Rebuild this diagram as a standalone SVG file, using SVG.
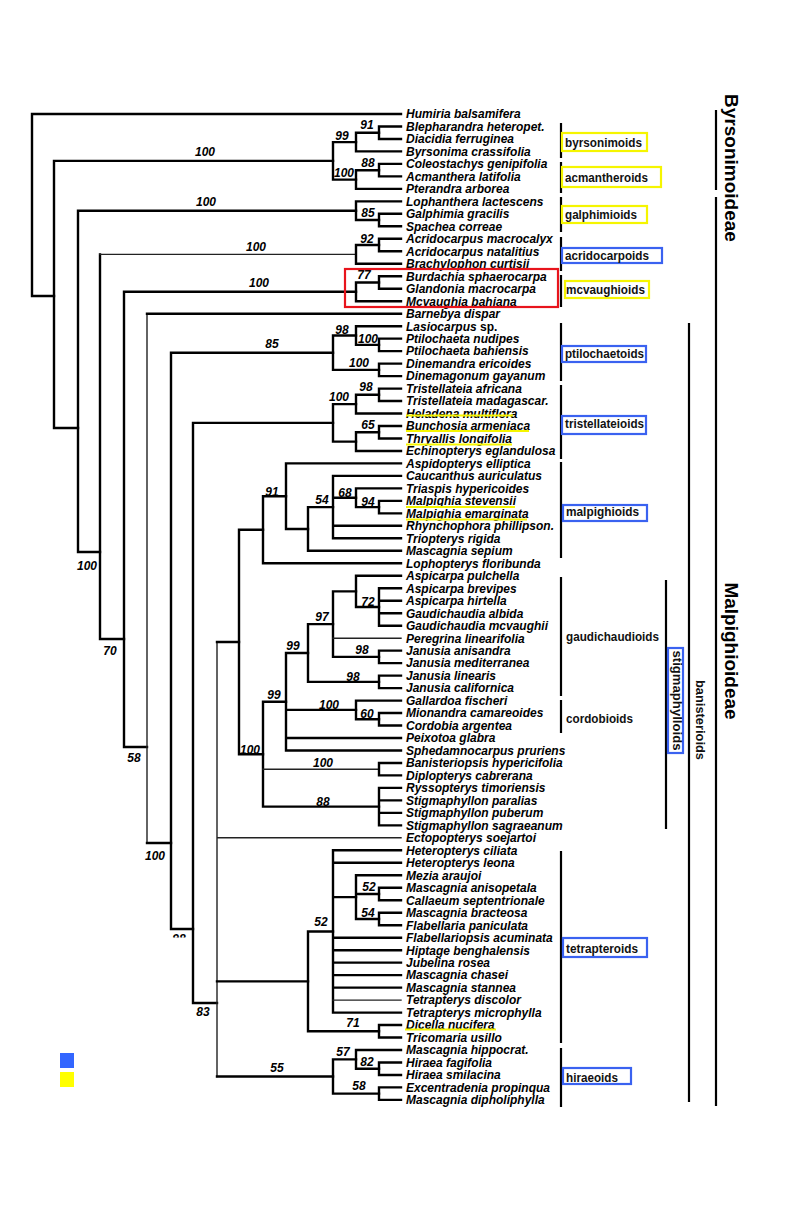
<svg xmlns="http://www.w3.org/2000/svg" width="786" height="1210" viewBox="0 0 786 1210">
<style>
.e{fill:none;stroke:#000;stroke-width:2.4;stroke-linecap:square;stroke-linejoin:miter}
.t{fill:none;stroke:#222;stroke-width:1.4;stroke-linecap:square}
.tx{font-family:"Liberation Sans",Arial,sans-serif;font-size:12px;font-weight:bold;font-style:italic;fill:#000}
.bs{font-family:"Liberation Sans",Arial,sans-serif;font-size:12px;font-weight:bold;font-style:italic;fill:#000;text-anchor:middle}
.cl{font-family:"Liberation Sans",Arial,sans-serif;font-size:13px;font-weight:bold;fill:#111}
.big{font-family:"Liberation Sans",Arial,sans-serif;font-size:19px;font-weight:bold;fill:#000;text-anchor:middle}
.bar{stroke:#000;stroke-width:2.2;fill:none}
.yb{fill:#fff;stroke:#f5f500;stroke-width:2.2}
.bb{fill:#fff;stroke:#3a62f0;stroke-width:2.2}
.ul{stroke:#f5f500;stroke-width:2}
</style>
<rect width="786" height="1210" fill="#fff"/>
<g id="connectors">
<path class="e" d="M32 114V296M32 114H401M32 296H54"/>
<path class="e" d="M54 160.9V428M54 160.9H333M54 428H78"/>
<path class="e" d="M356 142.1H333V179.6H356"/>
<path class="e" d="M379 132.8H356V151.4H401"/>
<path class="e" d="M401 126.5H379V139H401"/>
<path class="e" d="M379 170.2H356V188.9H401"/>
<path class="e" d="M401 163.9H379V176.4H401"/>
<path class="e" d="M356 210.7H78V552H100"/>
<path class="e" d="M401 201.4H356V220.05H379"/>
<path class="e" d="M401 213.8H379V226.3H401"/>
<path class="e" d="M100 254.4V639H124"/>
<path class="t" d="M100 254.4H356"/>
<path class="e" d="M379 245.05H356V263.8H401"/>
<path class="e" d="M401 238.8H379V251.3H401"/>
<path class="e" d="M356 291.8H124V747H147"/>
<path class="e" d="M379 282.45H356V301.2H401"/>
<path class="e" d="M401 276.2H379V288.7H401"/>
<path class="t" d="M147 313.7V843"/>
<path class="e" d="M147 313.7H401M147 843H171"/>
<path class="e" d="M333 352.7H171V929H193"/>
<path class="e" d="M356 335.5H333V369.85H379"/>
<path class="e" d="M401 326.2H356V344.85H379"/>
<path class="e" d="M401 338.6H379V351.1H401"/>
<path class="e" d="M401 363.6H379V376.1H401"/>
<path class="e" d="M333 422.9H193V1003H217"/>
<path class="e" d="M356 404.15H333V441.6H356"/>
<path class="e" d="M379 394.8H356V413.5H401"/>
<path class="e" d="M401 388.6H379V401H401"/>
<path class="e" d="M379 432.25H356V451H401"/>
<path class="e" d="M401 426H379V438.5H401"/>
<path class="t" d="M217 642V1076.5M217 837.8H401"/>
<path class="e" d="M217 642H239M217 981.35H308M217 1076.5H333"/>
<path class="e" d="M263 529.75H239V754.2H263"/>
<path class="e" d="M286 496.2H263V563.3H401"/>
<path class="e" d="M401 463.4H286V528.95H308"/>
<path class="e" d="M333 507.1H308V550.8H401"/>
<path class="e" d="M401 475.9H333V538.3H401M333 497.8H356M333 525.8H401"/>
<path class="e" d="M401 488.4H356V507.15H379"/>
<path class="e" d="M401 500.9H379V513.4H401"/>
<path class="e" d="M286 701.75H263V806.65H379"/>
<path class="t" d="M263 769.2H379"/>
<path class="e" d="M308 653H286V750.5H401M286 709.9H356M286 738H401"/>
<path class="e" d="M333 624.1H308V681.85H379"/>
<path class="e" d="M356 591.4H333V656.85H379"/>
<path class="t" d="M333 638.2H401"/>
<path class="e" d="M401 575.8H356V606.95H379"/>
<path class="e" d="M401 588.2H379V625.7H401M379 600.7H401M379 613.2H401"/>
<path class="e" d="M401 650.6H379V663.1H401"/>
<path class="e" d="M401 675.6H379V688.1H401"/>
<path class="e" d="M401 700.6H356V719.25H379"/>
<path class="e" d="M401 713H379V725.5H401"/>
<path class="e" d="M401 763H379V775.4H401"/>
<path class="e" d="M401 787.9H379V825.4H401M379 800.4H401M379 812.9H401"/>
<path class="e" d="M333 931.45H308V1031.25H379"/>
<path class="e" d="M401 850.3H333V1012.6H401M333 862.8H401M333 897.1H356M333 937.7H401M333 950.2H401M333 962.6H401M333 975.1H401M333 987.6H401"/>
<path class="t" d="M333 1000.1H401"/>
<path class="e" d="M401 875.3H356V918.95H379M356 894H379"/>
<path class="e" d="M401 887.8H379V900.2H401"/>
<path class="e" d="M401 912.7H379V925.2H401"/>
<path class="e" d="M401 1025H379V1037.5H401"/>
<path class="e" d="M356 1059.4H333V1093.65H379"/>
<path class="e" d="M401 1050H356V1068.75H379"/>
<path class="e" d="M401 1062.5H379V1075H401"/>
<path class="e" d="M401 1087.4H379V1099.9H401"/>
</g>
<g id="support">
<text class="bs" x="205" y="156.3">100</text>
<text class="bs" x="342" y="140.3">99</text>
<text class="bs" x="367" y="129.3">91</text>
<text class="bs" x="368" y="167.3">88</text>
<text class="bs" x="344" y="177.3">100</text>
<text class="bs" x="206" y="206.3">100</text>
<text class="bs" x="368" y="217.3">85</text>
<text class="bs" x="256" y="251.3">100</text>
<text class="bs" x="367" y="243.3">92</text>
<text class="bs" x="259" y="287.3">100</text>
<text class="bs" x="364" y="279.3">77</text>
<text class="bs" x="342" y="334.3">98</text>
<text class="bs" x="368" y="343.3">100</text>
<text class="bs" x="272" y="348.3">85</text>
<text class="bs" x="359" y="367.3">100</text>
<text class="bs" x="366" y="391.3">98</text>
<text class="bs" x="339" y="401.3">100</text>
<text class="bs" x="368" y="429.3">65</text>
<text class="bs" x="272" y="496.3">91</text>
<text class="bs" x="322" y="504.3">54</text>
<text class="bs" x="345" y="497.3">68</text>
<text class="bs" x="368" y="506.3">94</text>
<text class="bs" x="368" y="606.3">72</text>
<text class="bs" x="322" y="621.3">97</text>
<text class="bs" x="293" y="650.3">99</text>
<text class="bs" x="362" y="654.3">98</text>
<text class="bs" x="353" y="681.3">98</text>
<text class="bs" x="274" y="699.3">99</text>
<text class="bs" x="329" y="709.3">100</text>
<text class="bs" x="367" y="718.3">60</text>
<text class="bs" x="250" y="754.3">100</text>
<text class="bs" x="323" y="767.3">100</text>
<text class="bs" x="323" y="806.3">88</text>
<text class="bs" x="87" y="570.3">100</text>
<text class="bs" x="110" y="655.3">70</text>
<text class="bs" x="134" y="762.3">58</text>
<text class="bs" x="155" y="860.3">100</text>
<text class="bs" x="179" y="943">98</text>
<text class="bs" x="203" y="1016.3">83</text>
<text class="bs" x="369" y="891.3">52</text>
<text class="bs" x="368" y="917.3">54</text>
<text class="bs" x="321" y="926.3">52</text>
<text class="bs" x="353" y="1027.3">71</text>
<text class="bs" x="343" y="1056.3">57</text>
<text class="bs" x="367" y="1066.3">82</text>
<text class="bs" x="359" y="1090.3">58</text>
<text class="bs" x="277" y="1072.3">55</text>
</g>
<rect x="150" y="937.5" width="40" height="20" fill="#fff"/>
<g id="taxa">
<g id="t00"><text class="tx" x="406" y="118.3">Humiria balsamifera</text></g>
<g id="t01"><text class="tx" x="406" y="130.8">Blepharandra heteropet.</text></g>
<g id="t02"><text class="tx" x="406" y="143.3">Diacidia ferruginea</text></g>
<g id="t03"><text class="tx" x="406" y="155.7">Byrsonima crassifolia</text></g>
<g id="t04"><text class="tx" x="406" y="168.2">Coleostachys genipifolia</text></g>
<g id="t05"><text class="tx" x="406" y="180.7">Acmanthera latifolia</text></g>
<g id="t06"><text class="tx" x="406" y="193.2">Pterandra arborea</text></g>
<g id="t07"><text class="tx" x="406" y="205.7">Lophanthera lactescens</text></g>
<g id="t08"><text class="tx" x="406" y="218.1">Galphimia gracilis</text></g>
<g id="t09"><text class="tx" x="406" y="230.6">Spachea correae</text></g>
<g id="t10"><text class="tx" x="406" y="243.1">Acridocarpus macrocalyx</text></g>
<g id="t11"><text class="tx" x="406" y="255.6">Acridocarpus natalitius</text></g>
<g id="t12"><text class="tx" x="406" y="268.1">Brachylophon curtisii</text></g>
<g id="t13"><text class="tx" x="406" y="280.5">Burdachia sphaerocarpa</text></g>
<g id="t14"><text class="tx" x="406" y="293.0">Glandonia macrocarpa</text></g>
<g id="t15"><text class="tx" x="406" y="305.5">Mcvaughia bahiana</text></g>
<g id="t16"><text class="tx" x="406" y="318.0">Barnebya dispar</text></g>
<g id="t17"><text class="tx" x="406" y="330.5">Lasiocarpus <tspan font-style="normal">sp.</tspan></text></g>
<g id="t18"><text class="tx" x="406" y="342.9">Ptilochaeta nudipes</text></g>
<g id="t19"><text class="tx" x="406" y="355.4">Ptilochaeta bahiensis</text></g>
<g id="t20"><text class="tx" x="406" y="367.9">Dinemandra ericoides</text></g>
<g id="t21"><text class="tx" x="406" y="380.4">Dinemagonum gayanum</text></g>
<g id="t22"><text class="tx" x="406" y="392.9">Tristellateia africana</text></g>
<g id="t23"><text class="tx" x="406" y="405.3">Tristellateia madagascar.</text></g>
<g id="t24"><text class="tx" x="406" y="417.8">Heladena multiflora</text></g>
<g id="t25"><text class="tx" x="406" y="430.3">Bunchosia armeniaca</text></g>
<g id="t26"><text class="tx" x="406" y="442.8">Thryallis longifolia</text></g>
<g id="t27"><text class="tx" x="406" y="455.3">Echinopterys eglandulosa</text></g>
<g id="t28"><text class="tx" x="406" y="467.7">Aspidopterys elliptica</text></g>
<g id="t29"><text class="tx" x="406" y="480.2">Caucanthus auriculatus</text></g>
<g id="t30"><text class="tx" x="406" y="492.7">Triaspis hypericoides</text></g>
<g id="t31"><text class="tx" x="406" y="505.2">Malpighia stevensii</text></g>
<g id="t32"><text class="tx" x="406" y="517.7">Malpighia emarginata</text></g>
<g id="t33"><text class="tx" x="406" y="530.1">Rhynchophora phillipson.</text></g>
<g id="t34"><text class="tx" x="406" y="542.6">Triopterys rigida</text></g>
<g id="t35"><text class="tx" x="406" y="555.1">Mascagnia sepium</text></g>
<g id="t36"><text class="tx" x="406" y="567.6">Lophopterys floribunda</text></g>
<g id="t37"><text class="tx" x="406" y="580.1">Aspicarpa pulchella</text></g>
<g id="t38"><text class="tx" x="406" y="592.5">Aspicarpa brevipes</text></g>
<g id="t39"><text class="tx" x="406" y="605.0">Aspicarpa hirtella</text></g>
<g id="t40"><text class="tx" x="406" y="617.5">Gaudichaudia albida</text></g>
<g id="t41"><text class="tx" x="406" y="630.0">Gaudichaudia mcvaughii</text></g>
<g id="t42"><text class="tx" x="406" y="642.5">Peregrina linearifolia</text></g>
<g id="t43"><text class="tx" x="406" y="654.9">Janusia anisandra</text></g>
<g id="t44"><text class="tx" x="406" y="667.4">Janusia mediterranea</text></g>
<g id="t45"><text class="tx" x="406" y="679.9">Janusia linearis</text></g>
<g id="t46"><text class="tx" x="406" y="692.4">Janusia californica</text></g>
<g id="t47"><text class="tx" x="406" y="704.9">Gallardoa fischeri</text></g>
<g id="t48"><text class="tx" x="406" y="717.3">Mionandra camareoides</text></g>
<g id="t49"><text class="tx" x="406" y="729.8">Cordobia argentea</text></g>
<g id="t50"><text class="tx" x="406" y="742.3">Peixotoa glabra</text></g>
<g id="t51"><text class="tx" x="406" y="754.8">Sphedamnocarpus pruriens</text></g>
<g id="t52"><text class="tx" x="406" y="767.3">Banisteriopsis hypericifolia</text></g>
<g id="t53"><text class="tx" x="406" y="779.7">Diplopterys cabrerana</text></g>
<g id="t54"><text class="tx" x="406" y="792.2">Ryssopterys timoriensis</text></g>
<g id="t55"><text class="tx" x="406" y="804.7">Stigmaphyllon paralias</text></g>
<g id="t56"><text class="tx" x="406" y="817.2">Stigmaphyllon puberum</text></g>
<g id="t57"><text class="tx" x="406" y="829.7">Stigmaphyllon sagraeanum</text></g>
<g id="t58"><text class="tx" x="406" y="842.1">Ectopopterys soejartoi</text></g>
<g id="t59"><text class="tx" x="406" y="854.6">Heteropterys ciliata</text></g>
<g id="t60"><text class="tx" x="406" y="867.1">Heteropterys leona</text></g>
<g id="t61"><text class="tx" x="406" y="879.6">Mezia araujoi</text></g>
<g id="t62"><text class="tx" x="406" y="892.1">Mascagnia anisopetala</text></g>
<g id="t63"><text class="tx" x="406" y="904.5">Callaeum septentrionale</text></g>
<g id="t64"><text class="tx" x="406" y="917.0">Mascagnia bracteosa</text></g>
<g id="t65"><text class="tx" x="406" y="929.5">Flabellaria paniculata</text></g>
<g id="t66"><text class="tx" x="406" y="942.0">Flabellariopsis acuminata</text></g>
<g id="t67"><text class="tx" x="406" y="954.5">Hiptage benghalensis</text></g>
<g id="t68"><text class="tx" x="406" y="966.9">Jubelina rosea</text></g>
<g id="t69"><text class="tx" x="406" y="979.4">Mascagnia chasei</text></g>
<g id="t70"><text class="tx" x="406" y="991.9">Mascagnia stannea</text></g>
<g id="t71"><text class="tx" x="406" y="1004.4">Tetrapterys discolor</text></g>
<g id="t72"><text class="tx" x="406" y="1016.9">Tetrapterys microphylla</text></g>
<g id="t73"><text class="tx" x="406" y="1029.3">Dicella nucifera</text></g>
<g id="t74"><text class="tx" x="406" y="1041.8">Tricomaria usillo</text></g>
<g id="t75"><text class="tx" x="406" y="1054.3">Mascagnia hippocrat.</text></g>
<g id="t76"><text class="tx" x="406" y="1066.8">Hiraea fagifolia</text></g>
<g id="t77"><text class="tx" x="406" y="1079.3">Hiraea smilacina</text></g>
<g id="t78"><text class="tx" x="406" y="1091.7">Excentradenia propinqua</text></g>
<g id="t79"><text class="tx" x="406" y="1104.2">Mascagnia dipholiphylla</text></g>
</g>
<g id="highlights">
<line class="ul" x1="406" y1="415.5" x2="513" y2="415.5"/>
<line class="ul" x1="406" y1="431" x2="529" y2="431"/>
<line class="ul" x1="406" y1="444.5" x2="512" y2="444.5"/>
<line class="ul" x1="406" y1="507" x2="515" y2="507"/>
<line class="ul" x1="406" y1="519.5" x2="527" y2="519.5"/>
<line class="ul" x1="405" y1="1029.5" x2="496" y2="1029.5"/>
<rect x="345" y="269" width="213" height="38" fill="none" stroke="#e8141c" stroke-width="2.2"/>
</g>
<g id="clade-bars">
<path class="bar" d="M561 123V158M561 162V193M561 197V232M561 237V271M561 275V307M561 323V381M561 385V459M561 462V558M561 577V696M561 700V733M561 851V1043M561 1048V1107"/>
<path class="bar" d="M666 580V829M689 323V1102M716 110V190M716 197V1106"/>
</g>
<g id="byrsonimoids"><rect class="yb" x="562" y="133" width="85" height="18"/><text class="cl" x="565" y="146.5" textLength="77" lengthAdjust="spacingAndGlyphs">byrsonimoids</text></g>
<g id="acmantheroids"><rect class="yb" x="562" y="167" width="99" height="20"/><text class="cl" x="565" y="182" textLength="83" lengthAdjust="spacingAndGlyphs">acmantheroids</text></g>
<g id="galphimioids"><rect class="yb" x="562" y="206" width="85" height="17"/><text class="cl" x="565" y="219" textLength="72" lengthAdjust="spacingAndGlyphs">galphimioids</text></g>
<g id="acridocarpoids"><rect class="bb" x="562" y="248" width="100" height="15"/><text class="cl" x="565" y="259.5" textLength="84" lengthAdjust="spacingAndGlyphs">acridocarpoids</text></g>
<g id="mcvaughioids"><rect class="yb" x="565" y="281" width="84" height="17"/><text class="cl" x="566" y="294" textLength="79" lengthAdjust="spacingAndGlyphs">mcvaughioids</text></g>
<g id="ptilochaetoids"><rect class="bb" x="562" y="346" width="84" height="16"/><text class="cl" x="565" y="357.5" textLength="79" lengthAdjust="spacingAndGlyphs">ptilochaetoids</text></g>
<g id="tristellateioids"><rect class="bb" x="562" y="416" width="84" height="18"/><text class="cl" x="565" y="427.5" textLength="79" lengthAdjust="spacingAndGlyphs">tristellateioids</text></g>
<g id="malpighioids"><rect class="bb" x="563" y="505" width="84" height="16"/><text class="cl" x="566" y="515.5" textLength="73" lengthAdjust="spacingAndGlyphs">malpighioids</text></g>
<g id="gaudichaudioids"><text class="cl" x="566" y="641" textLength="93" lengthAdjust="spacingAndGlyphs">gaudichaudioids</text></g>
<g id="cordobioids"><text class="cl" x="566" y="722.5" textLength="67" lengthAdjust="spacingAndGlyphs">cordobioids</text></g>
<g id="tetrapteroids"><rect class="bb" x="563" y="938" width="84" height="19"/><text class="cl" x="566" y="953" textLength="72" lengthAdjust="spacingAndGlyphs">tetrapteroids</text></g>
<g id="hiraeoids"><rect class="bb" x="563" y="1068" width="68" height="16"/><text class="cl" x="566" y="1082" textLength="52" lengthAdjust="spacingAndGlyphs">hiraeoids</text></g>
<g id="stigmaphylloids"><rect class="bb" x="668" y="648" width="15" height="105"/><text class="cl" transform="translate(672.5,700.5) rotate(90)" text-anchor="middle" textLength="100" lengthAdjust="spacingAndGlyphs">stigmaphylloids</text></g>
<g id="banisterioids"><text class="cl" transform="translate(695.5,720) rotate(90)" text-anchor="middle" textLength="80" lengthAdjust="spacingAndGlyphs">banisterioids</text></g>
<g id="Byrsonimoideae"><text class="big" transform="translate(725,168) rotate(90)">Byrsonimoideae</text></g>
<g id="Malpighioideae"><text class="big" transform="translate(725,651) rotate(90)">Malpighioideae</text></g>
<g id="legend">
<rect x="60" y="1053" width="14" height="15" fill="#3366ff"/>
<rect x="60" y="1072" width="14" height="15" fill="#ffff00"/>
</g>
</svg>
